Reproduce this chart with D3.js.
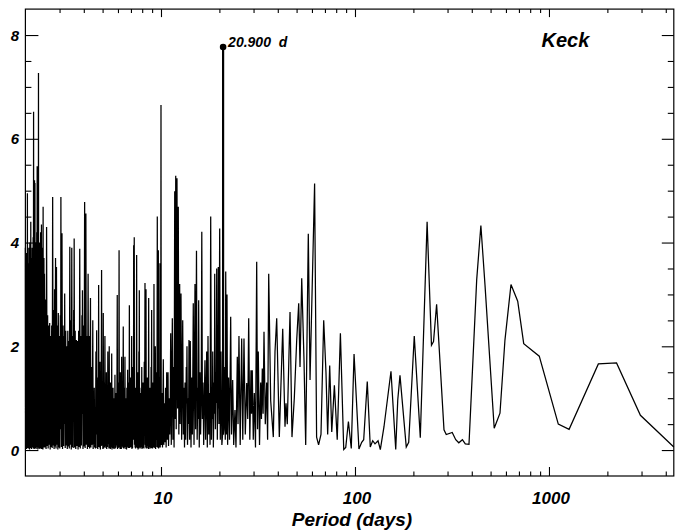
<!DOCTYPE html>
<html>
<head>
<meta charset="utf-8">
<script src="https://cdn.jsdelivr.net/npm/d3@7"></script>
<style>
  body { margin: 0; background: #fff; }
  text { font-family: "Liberation Sans", Arial, Helvetica, sans-serif; font-weight: bold; font-style: italic; fill: #000; }
</style>
</head>
<body>
<svg id="chart" width="678" height="532"></svg>
<script>
// periodogram, [period (days), power]
const denseBand = [
  [2.000,3.9],[2.006,0.05],[2.012,3.4],[2.018,0.1],[2.024,3.8],[2.030,0.02],[2.036,3.1],[2.042,0.08],[2.048,4.95],[2.054,0.04],
  [2.060,3.6],[2.066,0.1],[2.072,2.9],[2.078,0.03],[2.084,3.9],[2.090,0.06],[2.096,3.3],[2.102,0.01],[2.108,4.0],[2.114,0.09],
  [2.120,3.5],[2.126,0.04],[2.132,4.4],[2.138,0.07],[2.144,3.7],[2.150,0.02],[2.156,3.2],[2.162,0.1],[2.168,3.9],[2.174,0.05],
  [2.180,3.4],[2.186,0.12],[2.192,4.1],[2.198,0.03],[2.204,6.52],[2.210,0.06],[2.216,3.8],[2.222,0.02],[2.228,5.2],[2.234,0.08],
  [2.240,5.15],[2.246,0.04],[2.252,3.6],[2.258,0.1],[2.264,4.0],[2.270,0.02],[2.276,3.7],[2.282,0.09],[2.288,4.2],[2.294,0.05],
  [2.300,5.47],[2.306,0.07],[2.312,3.5],[2.318,0.01],[2.324,4.0],[2.330,0.06],[2.336,7.27],[2.342,0.08],[2.348,3.9],[2.354,0.03],
  [2.360,3.3],[2.366,0.1],[2.372,4.0],[2.378,0.02],[2.384,3.4],[2.390,0.07],[2.396,4.2],[2.402,0.04],[2.408,3.0],[2.414,0.11],
  [2.420,4.35],[2.426,0.02],[2.432,3.6],[2.438,0.06],[2.444,2.8],[2.450,0.03],[2.456,3.9],[2.462,0.01],[2.468,4.69],[2.474,0.08],
  [2.480,3.2],[2.486,0.05],[2.492,3.7],[2.498,0.09],
  [2.508,3.4],[2.524,0.05],[2.540,2.9],[2.556,0.02],[2.572,4.3],[2.588,0.08],[2.604,2.6],[2.620,0.03],[2.636,2.4],[2.652,0.1],
  [2.668,2.45],[2.684,0.01],[2.700,2.2],[2.716,0.06],[2.732,2.4],[2.748,0.04],[2.764,4.88],[2.780,0.09],[2.796,2.7],[2.812,0.02],
  [2.828,3.1],[2.844,0.07],[2.860,3.7],[2.876,0.03],[2.892,3.53],[2.908,0.1],[2.924,2.4],[2.940,0.01],[2.956,2.64],[2.972,0.05],
  [2.988,2.2],
  [3.008,0.03],[3.028,2.6],[3.038,0.4],[3.048,4.88],[3.068,0.06],[3.088,4.18],[3.108,0.02],[3.128,2.4],[3.148,0.08],[3.168,2.2],
  [3.178,0.5],[3.188,3.02],[3.208,0.04],[3.228,2.3],[3.248,0.09],[3.268,2.0],[3.288,0.02],[3.308,2.3],[3.328,0.07],[3.348,2.1],
  [3.368,0.03],[3.388,3.92],[3.408,0.1],[3.428,2.5],[3.448,0.01],[3.468,3.9],[3.488,0.06],[3.508,2.2],[3.528,0.04],[3.548,2.7],
  [3.558,0.6],[3.568,4.08],[3.588,0.05],
  [3.612,2.3],[3.637,0.02],[3.662,2.12],[3.687,0.08],[3.712,2.1],[3.737,0.01],[3.762,2.3],[3.787,0.06],[3.812,3.88],[3.837,0.03],
  [3.862,2.2],[3.887,0.09],[3.912,2.6],[3.925,0.7],[3.937,3.08],[3.962,0.02],[3.987,2.4],[4.012,0.07],[4.040,4.78],[4.065,0.04],
  [4.100,4.56],[4.125,0.1],[4.150,2.2],[4.175,0.02],[4.210,3.4],[4.235,0.06],[4.260,2.2],[4.285,0.03],[4.330,2.93],
  [4.35,0.05],[4.375,1.1],[4.40,1.6],[4.415,0.1],[4.43,0.9],[4.45,2.5],[4.47,0.02],[4.49,1.0],[4.51,0.1],[4.53,1.2],
  [4.55,0.05],[4.57,0.8],[4.595,0.03],[4.62,1.9],[4.64,0.3],[4.66,2.31],[4.68,0.04],[4.70,1.1],[4.72,0.02],[4.74,1.4],
  [4.755,0.2],[4.77,3.18],[4.79,0.06],[4.81,1.0],[4.83,0.05],[4.85,1.7],[4.87,0.01],[4.89,1.2],[4.915,0.08],[4.94,3.47],
  [4.96,0.09],[4.99,1.1],[5.015,0.02],[5.04,2.64],[5.06,0.03],[5.09,1.3],[5.115,0.05],[5.14,2.2],[5.16,0.07],[5.185,0.9],
  [5.21,0.04],[5.23,1.5],[5.25,0.02],[5.275,1.1],[5.30,0.06],[5.32,1.9],[5.34,0.1],[5.365,1.0],[5.39,0.03],[5.41,2.0],
  [5.43,0.04],[5.455,1.2],[5.48,0.02],[5.50,1.3],[5.515,0.08],[5.54,0.9],[5.555,0.05],[5.57,1.86],[5.59,0.01],[5.615,1.1],
  [5.64,0.04],[5.66,1.2],[5.68,0.06],[5.70,0.9],[5.72,0.02],[5.74,1.0],[5.765,0.2],[5.79,1.45],[5.81,0.03],[5.835,1.0],
  [5.86,0.05],[5.88,1.1],[5.90,0.09],[5.925,0.8],[5.95,2.99],[5.97,0.02],[5.99,1.0],
  [6.01,0.04],[6.04,1.3],[6.06,0.2],[6.08,3.85],[6.10,0.05],[6.135,1.1],[6.155,0.02],[6.17,1.5],[6.19,0.06],[6.22,0.9],
  [6.245,0.02],[6.27,1.8],[6.295,0.08],[6.32,1.0],[6.35,0.05],[6.39,2.38],[6.415,0.03],[6.44,1.1],[6.46,0.03],[6.48,1.2],
  [6.50,0.4],[6.52,1.8],[6.545,0.06],[6.57,0.9],[6.595,0.02],[6.62,1.0],[6.645,0.01],[6.67,1.2],[6.70,0.05],[6.73,1.55],
  [6.755,0.09],[6.78,0.8],[6.805,0.04],[6.83,1.3],[6.85,0.5],[6.87,2.79],[6.895,0.04],[6.92,1.0],[6.945,0.06],[6.97,1.4],
  [6.995,0.07],[7.02,0.9],[7.04,0.05],[7.06,2.2],[7.085,0.02],[7.11,1.1],[7.135,0.04],[7.16,1.6],[7.18,0.3],[7.20,1.2],
  [7.215,0.2],[7.23,3.95],[7.255,0.6],[7.28,4.1],[7.30,0.1],[7.335,1.0],[7.355,0.05],[7.37,1.2],[7.395,0.03],[7.42,0.9],
  [7.455,0.05],[7.49,3.76],[7.515,0.08],[7.54,1.1],[7.565,0.04],[7.59,1.5],[7.615,0.01],[7.64,0.8],[7.665,0.03],[7.69,1.9],
  [7.71,0.5],[7.73,3.08],[7.755,0.05],[7.78,1.2],[7.805,0.03],[7.83,1.1],[7.855,0.09],[7.88,1.0],[7.92,0.05],[7.96,1.6],
  [7.985,0.02],
  [8.01,0.9],[8.04,0.04],[8.07,1.3],[8.10,0.06],[8.13,0.8],[8.165,0.03],[8.20,1.7],[8.235,0.4],[8.27,3.22],[8.295,0.1],
  [8.32,1.0],[8.345,0.05],[8.37,3.1],[8.40,0.03],[8.43,0.9],[8.465,0.04],[8.50,1.4],[8.535,0.08],[8.57,1.0],[8.605,0.02],
  [8.64,2.93],[8.67,0.02],[8.70,0.9],[8.73,0.05],[8.76,1.2],[8.795,0.09],[8.83,0.8],[8.86,0.03],[8.89,1.6],[8.92,0.5],
  [8.95,2.7],[8.98,0.04],[9.01,1.0],[9.045,0.03],[9.08,1.3],[9.11,0.07],[9.14,0.9],[9.17,0.05],[9.20,3.2],[9.23,0.1],
  [9.26,1.1],[9.305,0.04],[9.35,2.0],[9.38,0.02],[9.41,1.0],[9.445,0.06],[9.48,1.5],[9.53,0.2],[9.57,4.5],[9.60,0.06],
  [9.63,1.1],[9.66,0.04],[9.69,3.85],[9.72,0.03],[9.75,1.0],[9.785,0.05],[9.82,1.4],[9.85,0.4],[9.88,3.6],[9.91,0.05],
  [9.94,0.9],[9.97,0.1],[10.00,6.65],[10.03,0.1]
];

const midBand = [
  [10.08,0.3],[10.12,1.1],[10.18,0.05],[10.23,0.8],[10.28,1.75],[10.34,0.1],[10.41,0.9],[10.48,0.15],[10.56,1.2],[10.63,0.05],
  [10.70,1.5],[10.78,0.2],[10.87,1.5],[10.94,0.08],[11.02,1.0],[11.10,0.3],[11.16,0.9],[11.22,2.25],[11.30,0.1],[11.37,1.3],
  [11.44,2.54],[11.52,0.2],[11.60,1.6],[11.68,0.05],[11.77,4.99],[11.84,0.6],[11.91,5.29],[11.98,0.4],[12.09,5.24],[12.18,0.8],
  [12.28,4.69],[12.36,0.3],[12.48,3.2],[12.56,0.5],[12.68,3.02],[12.78,0.2],[12.94,2.5],[13.04,0.3],[13.14,1.2],[13.22,0.05],
  [13.30,1.3],[13.40,0.2],[13.50,1.6],[13.55,0.9],[13.61,2.0],[13.70,0.1],[13.82,1.0],[13.88,0.5],[13.94,2.12],[14.04,0.2],
  [14.16,2.1],[14.28,0.05],[14.40,1.4],[14.52,0.3],[14.67,2.83],[14.80,0.1],[14.97,3.2],[15.08,0.4],[15.24,3.84],[15.36,0.2],
  [15.50,1.2],[15.57,0.6],[15.64,2.89],[15.75,0.05],[15.88,1.5],[16.00,0.3],[16.12,1.0],[16.23,4.21],[16.35,0.6],[16.47,1.3],
  [16.60,0.1],[16.72,0.9],[16.85,1.73],[16.98,0.2],[17.20,1.9],[17.33,0.05],[17.47,2.2],[17.62,0.3],[17.76,1.1],[17.90,0.1],
  [18.04,4.5],[18.20,0.2],[18.34,1.2],[18.40,0.6],[18.48,1.9],[18.62,0.05],[18.78,1.3],[18.85,0.7],[18.92,3.4],[19.08,0.4],
  [19.22,1.5],[19.30,0.9],[19.37,3.5],[19.52,0.2],[19.62,1.4],[19.68,0.8],[19.74,3.53],[19.90,0.5],[20.07,4.27],[20.22,0.2],
  [20.38,1.9],[20.60,0.1],[20.85,0.4],[20.90,7.77],[20.95,0.3],[21.10,0.4],[21.30,1.6],[21.45,0.2],[21.56,3.44],[21.72,0.3],
  [21.89,3.0],[22.05,0.1],[22.30,1.4],[22.55,0.2],[22.87,2.57],[23.10,0.3],[23.42,1.35],[23.70,0.1],[24.06,0.77],[24.35,0.05],
  [24.74,1.8],[24.95,0.5],[25.23,2.2],[25.60,0.1],[26.06,2.15],[26.40,0.2],[26.78,2.15],[27.20,0.3],[27.66,1.29],[28.00,0.6],
  [28.32,2.54],[28.70,0.2],[29.10,1.54],[29.30,0.7],[29.55,1.54],[29.90,0.2],[30.27,1.1],[30.70,0.05],[31.14,3.63],[31.45,0.4],
  [31.73,1.9],[32.20,0.1],[32.65,1.3],[32.95,0.6],[33.28,1.57],[33.60,0.7],[33.96,2.28],[34.49,0.5],[35.06,1.3],[35.45,0.2],
  [35.91,3.4],[36.77,0.95],[37.93,0.25],[38.70,1.9],[39.49,2.54],[40.73,0.25],[42.41,2.34],[43.58,0.45],[44.10,0.9],[44.77,0.5],
  [46.25,2.66],[47.34,0.25],[48.66,1.0],[50.07,2.12],[51.28,2.83],[52.08,1.6],[53.14,3.31],[54.60,1.73],[55.71,0.1],[57.46,4.17],
  [58.65,1.35],[61.92,5.14],[63.41,0.25],[64.93,0.1],[66.79,0.3],[68.98,2.5],[70.87,1.5],[72.31,0.3],[74.07,1.63]
];

const longBand = [
  [75.9,0.35],[78.3,1.25],[81.0,0.2],[84.1,2.25],[87.5,0.01],[89.6,0.05],[92.5,0.55],[95.7,0.03],[98.9,1.85],[104.8,0.02],
  [108.3,0.15],[110.9,0.2],[115.7,1.32],[119.9,0.06],[123.4,0.18],[126.8,0.12],[131.5,0.18],[135.1,0.01],[141.1,0.45],[153.3,1.52],
  [162.2,0.01],[166.1,0.96],[170.6,1.44],[183.8,0.06],[189.2,0.15],[202.1,2.2],[217.1,0.24],[235.4,4.4],[247.9,2.02],[254.0,2.09],
  [263.5,2.81],[287.6,0.39],[295.4,0.3],[317.2,0.34],[330.6,0.2],[342.9,0.14],[357.9,0.2],[370.4,0.12],[387.0,0.11],[424.0,3.28],
  [445.6,4.33],[468.0,3.18],[522.0,0.42],[559.0,0.71],[593.0,2.12],[637.0,3.19],[690.0,2.87],[741.0,2.05],[891.0,1.81],[1117,0.5],
  [1270,0.4],[1797,1.66],[2230,1.68],[2960,0.67],[4400,0.06]
];

const bestPeriod = 20.9;
const bestPower = 7.77;
const peakLabel = "20.900  d";
const panelLabel = "Keck";
const xLabel = "Period (days)";

const xMajorTicks = [10, 100, 1000];
const xMinorTicks = [3, 4, 5, 6, 7, 8, 9, 20, 30, 40, 50, 60, 70, 80, 90,
  200, 300, 400, 500, 600, 700, 800, 900, 2000, 3000, 4000];
const yMajorTicks = [0, 2, 4, 6, 8];
const yMinorTicks = [0.5, 1, 1.5, 2.5, 3, 3.5, 4.5, 5, 5.5, 6.5, 7, 7.5];

class PeriodogramD3 {
  constructor(svgEl) {
    this.svg = d3.select(svgEl);
    this.left = 25.4;
    this.right = 673.8;
    this.top = 9.1;
    this.bottom = 476;

    this.xScale = d3.scaleLog().domain([2, 4400]).range([this.left, this.right]);
    this.yScale = d3.scaleLinear().domain([-0.5, 8.5]).range([this.bottom, this.top]);

    this.renderLine();
    this.renderFrame();
    this.renderXAxis();
    this.renderYAxis();
    this.renderLabels();
  }

  renderLine() {
    const data = denseBand.concat(midBand, longBand);
    const line = d3.line()
      .x(d => this.xScale(d[0]))
      .y(d => this.yScale(d[1]));
    this.svg.append("path")
      .datum(data)
      .attr("fill", "none")
      .attr("stroke", "#000")
      .attr("stroke-width", 1.25)
      .attr("d", line);
  }

  renderFrame() {
    this.svg.append("rect")
      .attr("x", this.left).attr("y", this.top)
      .attr("width", this.right - this.left)
      .attr("height", this.bottom - this.top)
      .attr("fill", "none").attr("stroke", "#000").attr("stroke-width", 1.2);
  }

  addAxis(gen, transform) {
    this.svg.append("g")
      .attr("transform", transform)
      .call(gen)
      .call(g => g.select(".domain").remove())
      .call(g => g.selectAll("line").attr("stroke", "#000").attr("stroke-width", 1.1));
  }

  renderXAxis() {
    const x = this.xScale;
    this.addAxis(d3.axisBottom(x).tickValues(xMajorTicks).tickSize(-9).tickFormat(""), `translate(0,${this.bottom})`);
    this.addAxis(d3.axisBottom(x).tickValues(xMinorTicks).tickSize(-4.5).tickFormat(""), `translate(0,${this.bottom})`);
    this.addAxis(d3.axisTop(x).tickValues(xMajorTicks).tickSize(-8).tickFormat(""), `translate(0,${this.top})`);
    this.addAxis(d3.axisTop(x).tickValues(xMinorTicks).tickSize(-4).tickFormat(""), `translate(0,${this.top})`);

    this.svg.append("g").selectAll("text")
      .data(xMajorTicks)
      .join("text")
      .attr("x", d => x(d) + 2)
      .attr("y", 504)
      .attr("text-anchor", "middle")
      .attr("font-size", 17)
      .text(d => d);
  }

  renderYAxis() {
    const y = this.yScale;
    this.addAxis(d3.axisLeft(y).tickValues(yMajorTicks).tickSize(-13).tickFormat(""), `translate(${this.left},0)`);
    this.addAxis(d3.axisLeft(y).tickValues(yMinorTicks).tickSize(-6).tickFormat(""), `translate(${this.left},0)`);
    this.addAxis(d3.axisRight(y).tickValues(yMajorTicks).tickSize(-12).tickFormat(""), `translate(${this.right},0)`);
    this.addAxis(d3.axisRight(y).tickValues(yMinorTicks).tickSize(-6).tickFormat(""), `translate(${this.right},0)`);

    this.svg.append("g").selectAll("text")
      .data(yMajorTicks)
      .join("text")
      .attr("x", 19)
      .attr("y", d => y(d) + 5.6)
      .attr("text-anchor", "end")
      .attr("font-size", 15)
      .text(d => d);
  }

  renderLabels() {
    const px = this.xScale(bestPeriod);
    const py = this.yScale(bestPower);
    // stem under the best peak, drawn heavier like the original plot
    this.svg.append("line")
      .attr("x1", px).attr("x2", px)
      .attr("y1", this.yScale(0.3)).attr("y2", py)
      .attr("stroke", "#000").attr("stroke-width", 2.2);
    this.svg.append("circle").attr("cx", px).attr("cy", py).attr("r", 3.3).attr("fill", "#000");
    this.svg.append("text")
      .attr("x", px + 5).attr("y", py + 0.5)
      .attr("font-size", 14)
      .style("white-space", "pre")
      .text(peakLabel);

    this.svg.append("text")
      .attr("x", 541.5).attr("y", 46.5)
      .attr("font-size", 20)
      .text(panelLabel);

    this.svg.append("text")
      .attr("x", 352).attr("y", 526)
      .attr("text-anchor", "middle")
      .attr("font-size", 19)
      .text(xLabel);
  }
}

new PeriodogramD3("#chart");
</script>
</body>
</html>
